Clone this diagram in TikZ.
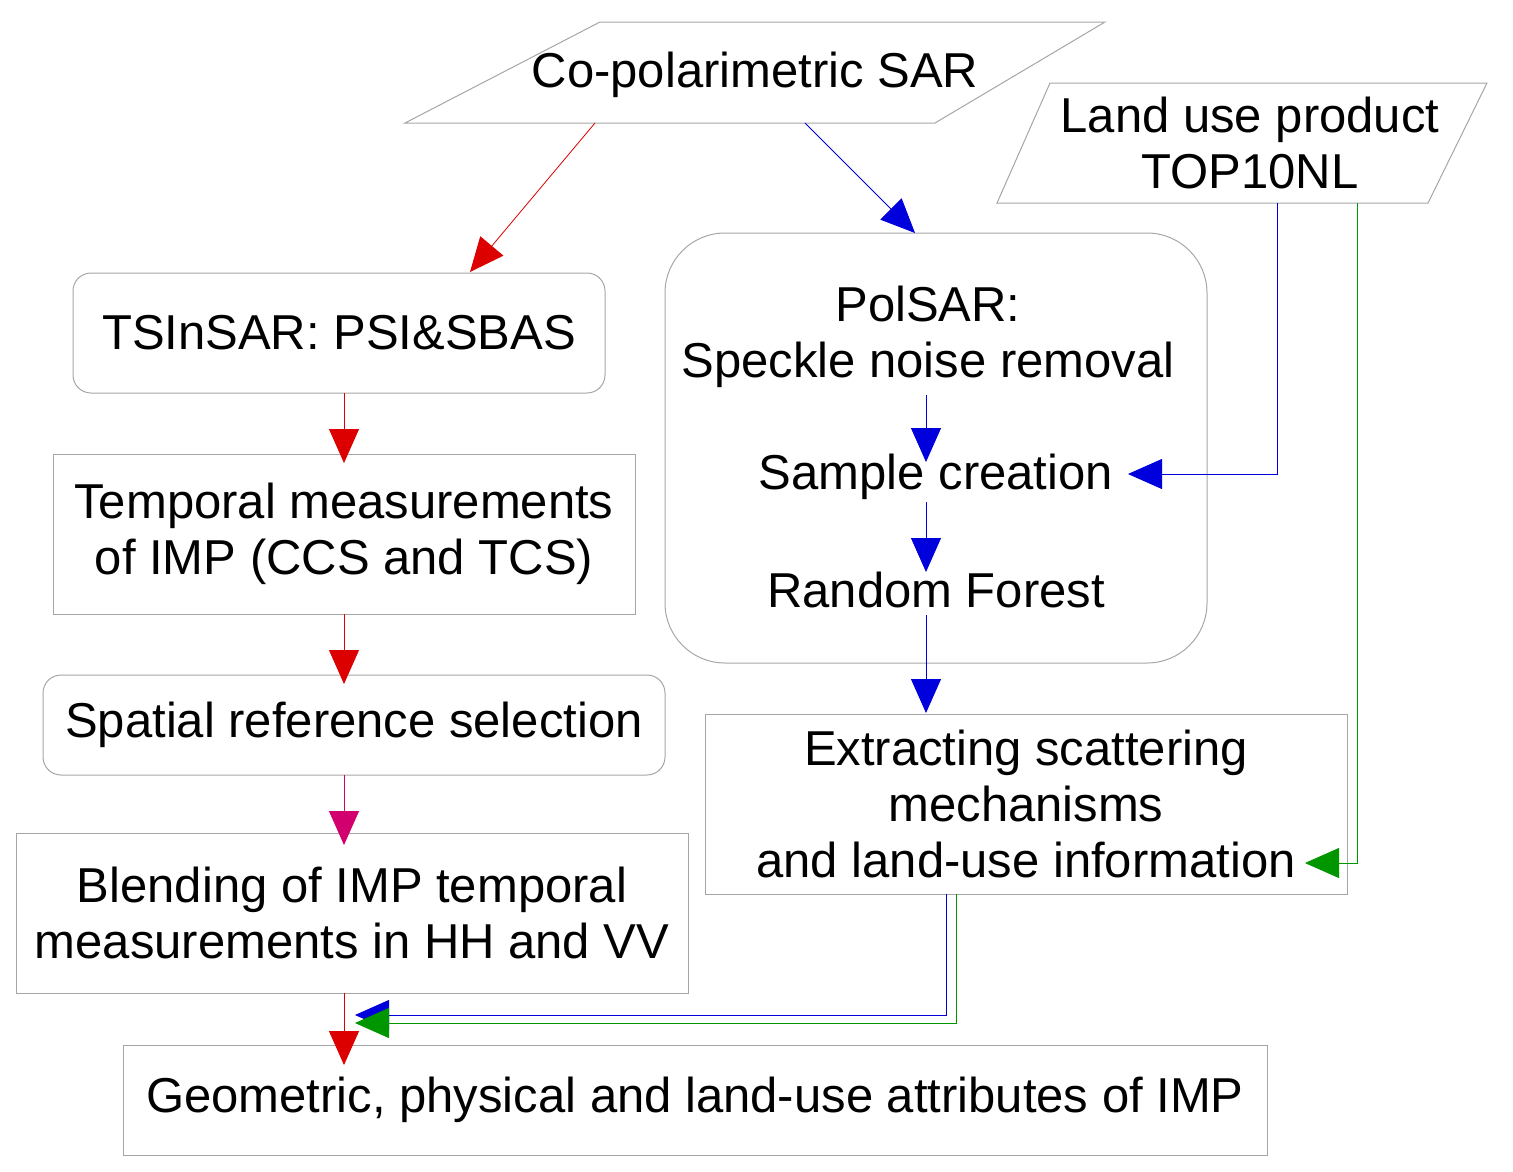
\documentclass[tikz,border=0pt]{standalone}
\usepackage{fontspec}
\setmainfont{Liberation Sans}
\usetikzlibrary{arrows.meta}
\definecolor{myred}{RGB}{220,0,0}
\definecolor{myblue}{RGB}{0,0,220}
\definecolor{mygreen}{RGB}{0,150,0}
\definecolor{mymag}{RGB}{210,0,110}
\begin{document}
\begin{tikzpicture}[x=1pt,y=-1pt,
  every node/.style={font=\fontsize{49}{56}\selectfont,align=center,inner sep=0pt},
  box/.style={draw=gray!70,line width=1pt},
  rbox/.style={box,rounded corners=18pt},
  arr/.style={line width=0.8pt,-{Triangle[length=34pt,width=30pt]}}]
\useasboundingbox (0,0) rectangle (1513,1171);
% input parallelograms
\draw[box] (600,22) -- (1105,22) -- (935,123) -- (405,123) -- cycle;
\node (sar) at (755,75) {Co-polarimetric SAR};
\draw[box] (1050,83) -- (1487,83) -- (1428,203) -- (997,203) -- cycle;
\node (lu) at (1250,143) {Land use product\\TOP10NL};
\coordinate (sarL) at (595,123);
\coordinate (sarR) at (805,123);
\coordinate (luA) at (1277,203);
\coordinate (luB) at (1357,203);
% left column
\node[rbox,minimum width=532pt,minimum height=120pt] (ts) at (339,333) {TSInSAR: PSI\&SBAS};
\node[box,minimum width=582pt,minimum height=160pt] (tm) at (344,534) {Temporal measurements\\ of IMP (CCS and TCS)};
\node[rbox,minimum width=622pt,minimum height=100pt] (sp) at (354,725) {Spatial reference selection};
\node[box,minimum width=672pt,minimum height=160pt] (bl) at (352,913) {Blending of IMP temporal\\measurements in HH and VV};
\node[box,minimum width=1144pt,minimum height=110pt] (geo) at (695,1100) {Geometric, physical and land-use attributes of IMP};
% PolSAR block
\draw[box,rounded corners=60pt] (665,233) rectangle (1207,663);
\coordinate (pbTop) at (915,233);
\node (pol) at (928,337) {PolSAR:\\Speckle noise removal};
\node (sc) at (936,477) {Sample creation};
\node (rf) at (936,590) {Random Forest};
\node[box,minimum width=642pt,minimum height=180pt] (ex) at (1026,804) {Extracting scattering\\mechanisms\\and land-use information};
% connectors
\draw[arr,myred] (sarL) -- (470,272);
\draw[arr,myblue] (sarR) -- (pbTop);
\draw[arr,myred] (344,393) -- (344,463);
\draw[arr,myred] (344,614) -- (344,684);
\draw[arr,mymag] (344,775) -- (344,845);
\draw[arr,myred] (344,993) -- (344,1065);
\draw[arr,myblue] (926,395) -- (926,462);
\draw[arr,myblue] (926,502) -- (926,572);
\draw[arr,myblue] (926,615) -- (926,713);
\draw[arr,myblue] (luA) |- (1128,474);
\draw[arr,mygreen] (luB) |- (1305,863);
\draw[arr,myblue] (946,894) |- (355,1015);
\draw[arr,mygreen] (956,894) |- (355,1023);
\end{tikzpicture}
\end{document}
